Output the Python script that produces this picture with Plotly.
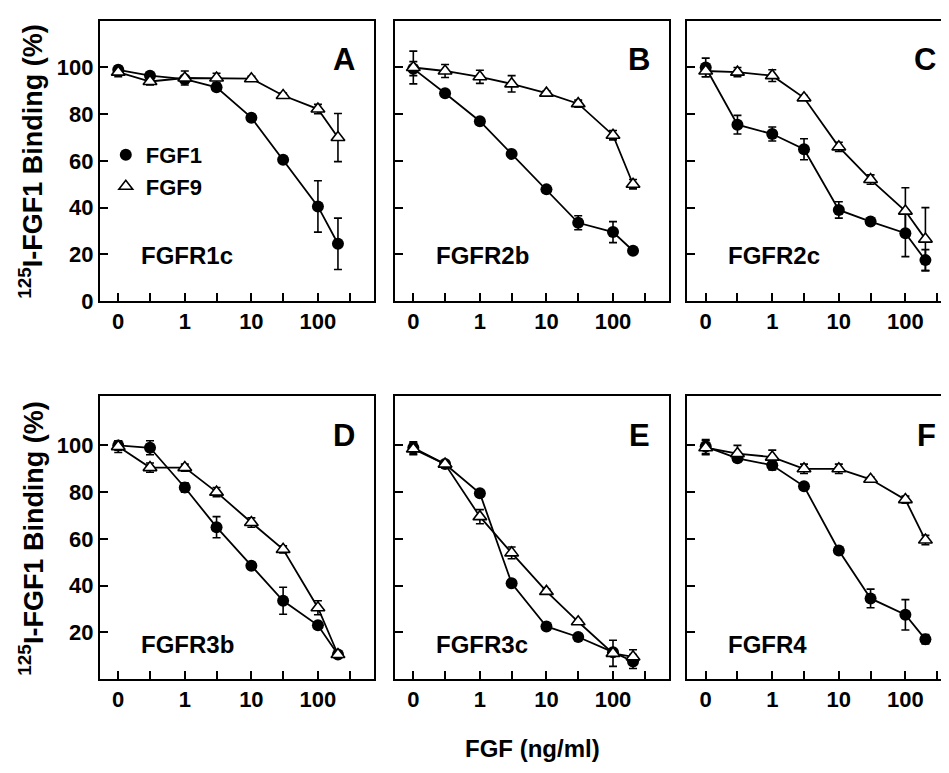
import plotly.graph_objects as go

# ---------------- data ----------------
doses = [0, 0.3, 1, 3, 10, 30, 100, 200]          # ng/ml
panels = ["A", "B", "C", "D", "E", "F"]
receptors = ["FGFR1c", "FGFR2b", "FGFR2c", "FGFR3b", "FGFR3c", "FGFR4"]

fgf1_A = [99, 96.5, 95, 91.5, 78.5, 60.5, 40.5, 24.5]
fgf1_A_err = [1.5, 1, 1, 1, 1, 1, 11, 11]
fgf9_A = [98, 94, 95.5, 95.5, 95.2, 88, 82.2, 70]
fgf9_A_err = [2, 1.5, 3, 2, 1, 1, 2, 10.3]

fgf1_B = [99.5, 89, 77, 63, 47.8, 33.5, 29.5, 21.5]
fgf1_B_err = [3, 1, 1, 1, 1, 3, 4.5, 1]
fgf9_B = [100, 98.5, 96, 93, 89, 84.5, 71, 50]
fgf9_B_err = [7, 2.8, 2.8, 3.5, 1, 1.5, 2, 2]

fgf1_C = [100, 75.5, 71.5, 65, 39, 34, 29, 17.5]
fgf1_C_err = [4, 4, 3, 4.5, 3.5, 1, 10, 4.5]
fgf9_C = [98.5, 98, 96.5, 87, 66, 52, 38.5, 26.5]
fgf9_C_err = [2.5, 2, 2.5, 1, 2, 2, 10, 13.5]

fgf1_D = [100, 99, 82, 65, 48.5, 33.5, 23, 10.5]
fgf1_D_err = [2, 3, 2, 4.5, 1, 5.8, 1, 1]
fgf9_D = [99.5, 90.5, 90.5, 80, 67, 55.5, 30.5, 10.5]
fgf9_D_err = [2.5, 2, 1.5, 2, 2, 1.5, 3, 1]

fgf1_E = [99, 92, 79.5, 41, 22.5, 18, 11.5, 7.5]
fgf1_E_err = [2.5, 1, 1, 1, 1, 1, 1, 3]
fgf9_E = [98.5, 92, 69.5, 54, 37.5, 24.5, 11, 9.5]
fgf9_E_err = [2.5, 1, 3, 2.5, 1, 1, 5.6, 3]

fgf1_F = [99.5, 94.5, 91.5, 82.5, 55, 34.5, 27.5, 17]
fgf1_F_err = [3, 1, 2, 1, 1, 4, 6.5, 2]
fgf9_F = [99, 96.5, 95, 90, 90, 85.5, 76.8, 59.5]
fgf9_F_err = [3, 3.5, 3, 2, 2, 1, 1.5, 2]

fgf1_sets = [(fgf1_A, fgf1_A_err), (fgf1_B, fgf1_B_err), (fgf1_C, fgf1_C_err),
             (fgf1_D, fgf1_D_err), (fgf1_E, fgf1_E_err), (fgf1_F, fgf1_F_err)]
fgf9_sets = [(fgf9_A, fgf9_A_err), (fgf9_B, fgf9_B_err), (fgf9_C, fgf9_C_err),
             (fgf9_D, fgf9_D_err), (fgf9_E, fgf9_E_err), (fgf9_F, fgf9_F_err)]

x_tickvals = [0.1, 1, 10, 100]
x_ticktext = ["0", "1", "10", "100"]
x_minorvals = [0.3, 3, 30, 300]

# "0" dose is drawn at the 0.1 position of the log axis
xpos = [d if d > 0 else 0.1 for d in doses]

# ---------------- layout ----------------
W, H = 949, 773
FONT = "Liberation Sans, Arial, Helvetica, sans-serif"
PX_PER_DEC = 66.7
XMIN = -1.277
panel_left_px = [92, 387.7, 680.7]
panel_w_px = 275
rows_px = [(13, 298), (395, 682.5)]
yranges = [[0, 120], [0, 121]]

fig = go.Figure()

axis_common = dict(showline=True, linecolor="black", linewidth=2, mirror=True,
                   ticks="inside", ticklen=8, tickwidth=2, tickcolor="black",
                   showgrid=False, zeroline=False,
                   tickfont=dict(family=FONT, size=22, color="black", weight="bold"))

for i in range(6):
    r, c = divmod(i, 3)
    n = i + 1
    xa = "x" if n == 1 else f"x{n}"
    ya = "y" if n == 1 else f"y{n}"
    left = panel_left_px[c]
    right = min(left + panel_w_px, W)
    xmax = XMIN + (right - left) / PX_PER_DEC
    top, bot = rows_px[r]
    xdom = [left / W, right / W]
    ydom = [1 - bot / H, 1 - top / H]
    yt = [0, 20, 40, 60, 80, 100] if r == 0 else [20, 40, 60, 80, 100]
    fig.layout[f"xaxis{'' if n == 1 else n}"] = dict(
        axis_common, type="log", domain=xdom, range=[XMIN, xmax],
        tickvals=x_tickvals, ticktext=x_ticktext, anchor=ya,
        minor=dict(tickvals=x_minorvals, ticks="inside", ticklen=8, tickwidth=2,
                   tickcolor="black", showgrid=False))
    fig.layout[f"yaxis{'' if n == 1 else n}"] = dict(
        axis_common, domain=ydom, range=yranges[r], tickvals=yt,
        showticklabels=(c == 0), anchor=xa)

    y1, e1 = fgf1_sets[i]
    y9, e9 = fgf9_sets[i]
    fig.add_trace(go.Scatter(
        x=xpos, y=y1, xaxis=xa, yaxis=ya, mode="lines+markers", showlegend=False,
        line=dict(color="black", width=1.8),
        marker=dict(symbol="circle", size=12, color="black"),
        error_y=dict(type="data", array=e1, color="black", thickness=1.6, width=4)))
    fig.add_trace(go.Scatter(
        x=xpos, y=y9, xaxis=xa, yaxis=ya, mode="lines+markers", showlegend=False,
        line=dict(color="black", width=1.8),
        marker=dict(symbol="triangle-up", size=12, color="white",
                    line=dict(color="black", width=1.6)),
        error_y=dict(type="data", array=e9, color="black", thickness=1.6, width=4)))

    fig.add_annotation(text=panels[i], xref=f"{xa} domain", yref=f"{ya} domain",
                       x=1, xanchor="right", xshift=-17, y=0.862, yanchor="middle",
                       showarrow=False,
                       font=dict(family=FONT, size=31, color="black", weight="bold"))
    fig.add_annotation(text=receptors[i], xref=f"{xa} domain", yref=f"{ya} domain",
                       x=0, xanchor="left", xshift=39,
                       y=(0.161 if r == 0 else 0.123), yanchor="middle",
                       showarrow=False,
                       font=dict(family=FONT, size=24, color="black", weight="bold"))

# legend entries (marker-only) in panel A
fig.add_trace(go.Scatter(x=[None], y=[None], mode="markers", name="FGF1",
                         marker=dict(symbol="circle", size=12, color="black"),
                         legendgroup="g1"))
fig.add_trace(go.Scatter(x=[None], y=[None], mode="markers", name="FGF9",
                         marker=dict(symbol="triangle-up", size=12, color="white",
                                     line=dict(color="black", width=1.6)),
                         legendgroup="g2"))

# axis titles
for (top, bot) in rows_px:
    fig.add_annotation(text="<sup>125</sup>I-FGF1 Binding (%)", xref="paper", yref="paper",
                       x=23 / W, y=1 - (top + bot) / 2 / H, xanchor="center",
                       yanchor="middle", textangle=-90, showarrow=False,
                       font=dict(family=FONT, size=27, color="black", weight="bold"))
fig.add_annotation(text="FGF (ng/ml)", xref="paper", yref="paper",
                   x=526 / W, y=1 - 753 / H, xanchor="center", yanchor="middle",
                   showarrow=False,
                   font=dict(family=FONT, size=24, color="black", weight="bold"))

fig.update_layout(
    width=W, height=H, margin=dict(l=0, r=0, t=0, b=0),
    plot_bgcolor="white", paper_bgcolor="white",
    showlegend=True,
    legend=dict(x=98 / W, y=1 - 128 / H, xanchor="left", yanchor="top",
                bgcolor="rgba(0,0,0,0)", tracegroupgap=0, traceorder="grouped",
                font=dict(family=FONT, size=22, color="black", weight="bold")),
)

fig.write_html("out.html")
